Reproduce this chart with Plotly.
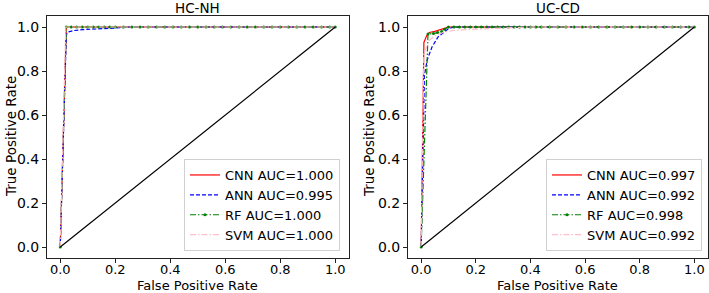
import plotly.graph_objects as go

W, H = 709, 293

panel_titles = ["HC-NH", "UC-CD"]
model_names = ["CNN", "ANN", "RF", "SVM"]

# HC-NH
hc_cnn_fpr = [0.0, 0.022, 0.05, 1.0]
hc_cnn_tpr = [0.0, 1.0, 1.0, 1.0]
hc_ann_fpr = [0.0, 0.022, 0.03, 0.05, 0.08, 0.12, 0.2, 0.25, 1.0]
hc_ann_tpr = [0.0, 0.965, 0.978, 0.984, 0.988, 0.99, 0.995, 1.0, 1.0]
hc_rf_fpr = [0.0, 0.022, 0.04, 0.06, 0.08, 0.1, 0.12, 0.14, 0.16, 0.18, 0.2, 0.23, 0.26,
             0.29, 0.32, 0.35, 0.38, 0.41, 0.44, 0.47, 0.5, 0.53, 0.56, 0.59, 0.62, 0.65,
             0.68, 0.71, 0.74, 0.77, 0.8, 0.83, 0.86, 0.89, 0.92, 0.95, 0.98, 1.0]
hc_rf_tpr = [0.0] + [1.0] * 37
hc_svm_fpr = [0.0, 0.02, 1.0]
hc_svm_tpr = [0.0, 1.0, 1.0]
hc_auc = ["1.000", "0.995", "1.000", "1.000"]

# UC-CD
uc_cnn_fpr = [0.0, 0.01, 0.02, 0.03, 0.05, 0.08, 0.1, 1.0]
uc_cnn_tpr = [0.0, 0.93, 0.96, 0.975, 0.98, 0.99, 1.0, 1.0]
uc_ann_fpr = [0.0, 0.012, 0.022, 0.04, 0.062, 0.08, 0.097, 0.12, 1.0]
uc_ann_tpr = [0.0, 0.78, 0.85, 0.91, 0.955, 0.975, 0.99, 1.0, 1.0]
uc_rf_fpr = [0.0, 0.025, 0.045, 0.06, 0.075, 0.085, 0.1, 0.12, 0.14, 0.16, 0.18, 0.2,
             0.22, 0.24, 0.26, 0.28, 0.3, 0.32, 0.34, 0.36, 0.38, 0.4, 0.42, 0.44, 0.47,
             0.5, 0.53, 0.56, 0.59, 0.62, 0.65, 0.68, 0.71, 0.74, 0.77, 0.8, 0.83, 0.86,
             0.89, 0.92, 0.95, 0.98, 1.0]
uc_rf_tpr = [0.0, 0.968, 0.97, 0.975, 0.98, 0.99] + [1.0] * 37
uc_svm_fpr = [0.0, 0.01, 0.03, 0.05, 0.08, 0.12, 0.2, 0.3, 0.4, 1.0]
uc_svm_tpr = [0.0, 0.88, 0.94, 0.96, 0.975, 0.985, 0.99, 0.995, 1.0, 1.0]
uc_auc = ["0.997", "0.992", "0.998", "0.992"]

diag = [0.0, 1.0]
tick_vals = [0.0, 0.2, 0.4, 0.6, 0.8, 1.0]
tick_text = ["0.0", "0.2", "0.4", "0.6", "0.8", "1.0"]

FONT = "DejaVu Sans"
styles = {
    "CNN": dict(color="red", dash="solid", mode="lines"),
    "ANN": dict(color="blue", dash="4px,2px", mode="lines"),
    "RF": dict(color="green", dash="6px,2px,1.5px,2px", mode="lines+markers"),
    "SVM": dict(color="pink", dash="6px,2px,1.5px,2px", mode="lines"),
}

panels = [
    dict(data=[(hc_cnn_fpr, hc_cnn_tpr), (hc_ann_fpr, hc_ann_tpr), (hc_rf_fpr, hc_rf_tpr),
               (hc_svm_fpr, hc_svm_tpr)], auc=hc_auc),
    dict(data=[(uc_cnn_fpr, uc_cnn_tpr), (uc_ann_fpr, uc_ann_tpr), (uc_rf_fpr, uc_rf_tpr),
               (uc_svm_fpr, uc_svm_tpr)], auc=uc_auc),
]

# pixel geometry
x_domains = [(46.5 / W, 349 / W), (407.5 / W, 708 / W)]
y_domain = ((H - 258) / H, (H - 16) / H)

fig = go.Figure()
for i, p in enumerate(panels):
    xa = "x" if i == 0 else "x2"
    ya = "y" if i == 0 else "y2"
    leg = "legend" if i == 0 else "legend2"
    for name, (fx, ty), auc in zip(model_names, p["data"], p["auc"]):
        s = styles[name]
        fig.add_trace(go.Scatter(
            x=fx, y=ty, mode=s["mode"], name=f"{name} AUC={auc}",
            line=dict(color=s["color"], dash=s["dash"], width=1.2),
            marker=dict(size=3, color=s["color"]),
            xaxis=xa, yaxis=ya, legend=leg, showlegend=True))
    fig.add_trace(go.Scatter(x=diag, y=diag, mode="lines", line=dict(color="black", width=1.2),
                             xaxis=xa, yaxis=ya, showlegend=False, hoverinfo="skip"))

axis_common = dict(range=[-0.05, 1.05], tickvals=tick_vals, ticktext=tick_text,
                   showgrid=False, zeroline=False, showline=True, mirror=True,
                   linecolor="#222", linewidth=1, ticks="outside", ticklen=3.5,
                   tickcolor="#222")
xtickfont = dict(family=FONT, size=13, color="black")
ytickfont = dict(family=FONT, size=14, color="black")

legend_common = dict(bgcolor="rgba(255,255,255,0.85)", bordercolor="#d0d0d0", borderwidth=1,
                     font=dict(family=FONT, size=13, color="black"),
                     xanchor="right", yanchor="bottom", tracegroupgap=0, itemwidth=30)

fig.update_layout(
    width=W, height=H, margin=dict(l=0, r=0, t=0, b=0),
    paper_bgcolor="white", plot_bgcolor="white",
    xaxis=dict(domain=x_domains[0], anchor="y", tickfont=xtickfont, ticklabelstandoff=-4, **axis_common),
    yaxis=dict(domain=y_domain, anchor="x", tickfont=ytickfont, **axis_common),
    xaxis2=dict(domain=x_domains[1], anchor="y2", tickfont=xtickfont, ticklabelstandoff=-4, **axis_common),
    yaxis2=dict(domain=y_domain, anchor="x2", tickfont=ytickfont, **axis_common),
    legend=dict(x=340 / W, y=(H - 251) / H, **legend_common),
    legend2=dict(x=702 / W, y=(H - 251) / H, **legend_common),
)

annotations = []
for i, t in enumerate(panel_titles):
    cx = (x_domains[i][0] + x_domains[i][1]) / 2
    annotations.append(dict(text=t, x=cx, y=1 - 8.5 / H, xref="paper", yref="paper",
                            showarrow=False, xanchor="center", yanchor="middle",
                            font=dict(family=FONT, size=13.5, color="black")))
    annotations.append(dict(text="False Positive Rate", x=cx, y=-1 / H, xref="paper",
                            yref="paper", showarrow=False, xanchor="center", yanchor="bottom",
                            borderpad=0, font=dict(family=FONT, size=13, color="black")))
    ylab_x = 11 if i == 0 else 369
    annotations.append(dict(text="True Positive Rate", x=ylab_x / W, y=(y_domain[0] + y_domain[1]) / 2,
                            xref="paper", yref="paper", showarrow=False, textangle=-90,
                            xanchor="center", yanchor="middle",
                            font=dict(family=FONT, size=13.5, color="black")))
fig.update_layout(annotations=annotations)

fig.write_html("out.html", config={"displayModeBar": False},
               post_script="document.body.style.margin='0';document.body.style.overflow='hidden';")
